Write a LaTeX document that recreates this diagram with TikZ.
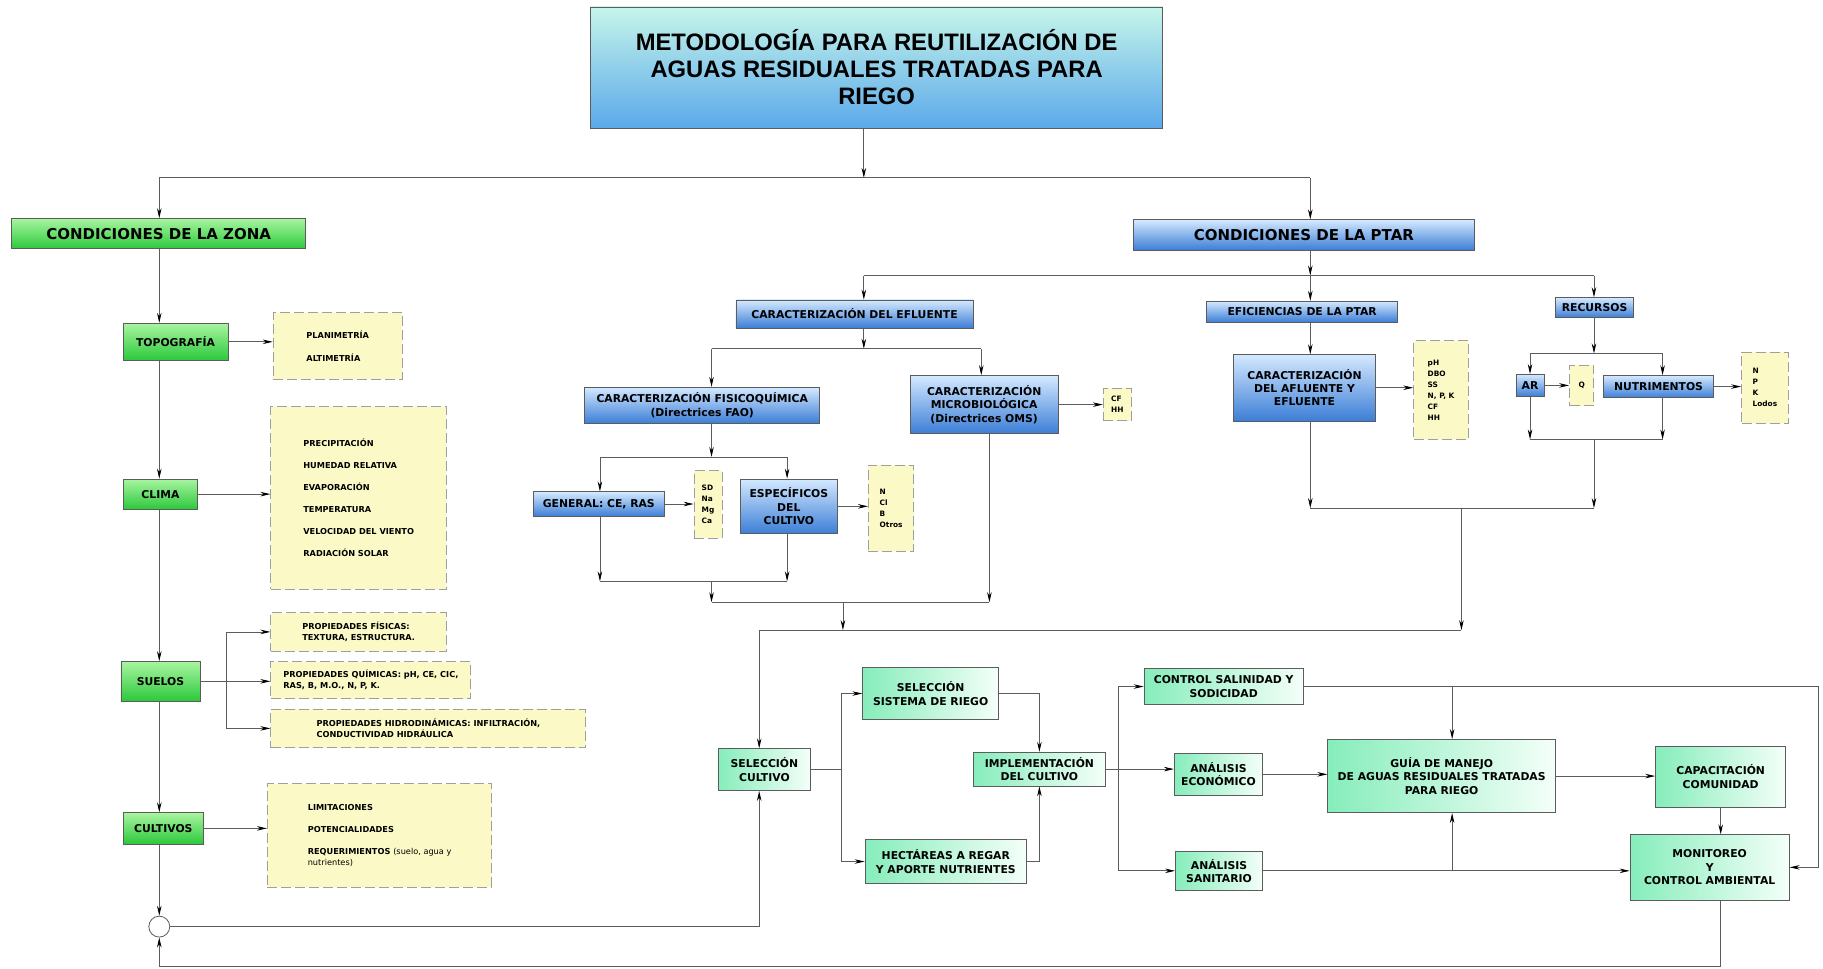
\documentclass[tikz,border=0pt]{standalone}
\usepackage{fontspec}
\setmainfont{DejaVu Sans}
\newfontfamily\titlefont{Liberation Sans}
\usetikzlibrary{arrows.meta}
\definecolor{lin}{HTML}{5C5C5C}
\definecolor{grnL}{HTML}{A8F5A0}
\definecolor{grnD}{HTML}{2CC83C}
\definecolor{bluL}{HTML}{D4E9FF}
\definecolor{bluD}{HTML}{3C7ED6}
\definecolor{mntL}{HTML}{86EDBB}
\definecolor{mntR}{HTML}{F4FFF9}
\definecolor{ylw}{HTML}{FBF9C6}
\definecolor{ttlT}{HTML}{C6F5EA}
\definecolor{ttlB}{HTML}{5AA9EA}

\begin{document}
\begin{tikzpicture}[x={(1.1626pt,0)}, y={(0,-1.1626pt)},
conn/.style={draw=lin, line width=0.8pt},
arr/.style={conn, -{Stealth[length=10pt,width=4.5pt,black]}},
box/.style 2 args={minimum width=#1*1.1626pt, minimum height=#2*1.1626pt, inner sep=0pt, align=center, draw=lin, line width=0.7pt},
grn/.style={top color=grnL, bottom color=grnD, font=\bfseries\fontsize{10.8}{13.3}\selectfont},
blu/.style={top color=bluL, bottom color=bluD, font=\bfseries\fontsize{10.8}{13.3}\selectfont},
mnt/.style={left color=mntL, right color=mntR, font=\bfseries\fontsize{10.8}{13.3}\selectfont},
note/.style={fill=ylw, draw=gray!75, dash pattern=on 10pt off 4pt, line width=1pt, font=\bfseries\fontsize{8.2}{11}\selectfont, align=left},
minor/.style={note, font=\bfseries\fontsize{7.4}{11}\selectfont}]
\useasboundingbox (0,0) rectangle (1568,833);

\node[box={492}{104}, top color=ttlT, bottom color=ttlB, font=\titlefont\bfseries\fontsize{23.8}{27}\selectfont] (title) at (754,58) {METODOLOGÍA PARA REUTILIZACIÓN DE\\AGUAS RESIDUALES TRATADAS PARA\\RIEGO};
\node[box={253}{26}, grn, font=\bfseries\fontsize{15}{18}\selectfont] (zona) at (136.5,201) {CONDICIONES DE LA ZONA};
\node[box={293}{26}, blu, font=\bfseries\fontsize{15}{18}\selectfont] (ptar) at (1121.5,202) {CONDICIONES DE LA PTAR};

\node[box={90}{32}, grn] (topo) at (151,294) {TOPOGRAFÍA};
\node[box={64}{26}, grn] (clima) at (138,425) {CLIMA};
\node[box={68}{34}, grn] (suelos) at (138,586) {SUELOS};
\node[box={69}{27}, grn] (cult) at (140.5,712.5) {CULTIVOS};
\node[circle, draw=lin, line width=0.8pt, fill=white, minimum size=18*1.1626pt, inner sep=0pt] (loop) at (137,797) {};

\node[box={111}{57}, note] (topod) at (290.5,297.5) {PLANIMETRÍA\\[12pt]ALTIMETRÍA};
\node[box={151}{157}, note] (climad) at (308.5,428.5) {PRECIPITACIÓN\\[11pt]HUMEDAD RELATIVA\\[11pt]EVAPORACIÓN\\[11pt]TEMPERATURA\\[11pt]VELOCIDAD DEL VIENTO\\[11pt]RADIACIÓN SOLAR};
\node[box={151}{33}, note] (fis) at (308.5,543.5) {PROPIEDADES FÍSICAS:\\TEXTURA, ESTRUCTURA.};
\node[box={172}{32}, note] (qui) at (319,585) {PROPIEDADES QUÍMICAS: pH, CE, CIC,\\RAS, B, M.O., N, P, K.};
\node[box={271}{33}, note] (hid) at (368.5,626.5) {PROPIEDADES HIDRODINÁMICAS: INFILTRACIÓN,\\CONDUCTIVIDAD HIDRÁULICA};
\node[box={193}{89}, note] (cultd) at (326.5,718.5) {LIMITACIONES\\[11pt]POTENCIALIDADES\\[11pt]REQUERIMIENTOS {\mdseries(suelo, agua y}\\{\mdseries nutrientes)}};

\node[box={204}{24}, blu] (efl) at (735,270) {CARACTERIZACIÓN DEL EFLUENTE};
\node[box={164}{18}, blu] (efi) at (1120,268) {EFICIENCIAS DE LA PTAR};
\node[box={67}{17}, blu] (rec) at (1371.5,264.5) {RECURSOS};
\node[box={202}{31}, blu] (fisq) at (604,348.5) {CARACTERIZACIÓN FISICOQUÍMICA\\(Directrices FAO)};
\node[box={127}{50}, blu] (micro) at (846.5,348) {CARACTERIZACIÓN\\MICROBIOLÓGICA\\(Directrices OMS)};
\node[box={24}{28}, minor] (cfhh) at (961,348) {CF\\HH};
\node[box={112}{21}, blu] (gen) at (515,433.5) {GENERAL: CE, RAS};
\node[box={24}{58}, minor] (sd) at (609,434) {SD\\Na\\Mg\\Ca};
\node[box={83}{47}, blu] (esp) at (678.5,435.5) {ESPECÍFICOS\\DEL\\CULTIVO};
\node[box={39}{74}, minor] (ncl) at (766.5,437) {N\\Cl\\B\\Otros};
\node[box={122}{57}, blu] (afl) at (1122,333.5) {CARACTERIZACIÓN\\DEL AFLUENTE Y\\EFLUENTE};
\node[box={47}{85}, minor] (afld) at (1239.5,335.5) {pH\\DBO\\SS\\N, P, K\\CF\\HH};
\node[box={24}{19}, blu] (ar) at (1316,331.5) {AR};
\node[box={21}{35}, minor] (q) at (1360.5,331.5) {Q};
\node[box={95}{19}, blu] (nut) at (1426.5,332.5) {NUTRIMENTOS};
\node[box={40}{61}, minor] (npk) at (1518,333.5) {N\\P\\K\\Lodos};

\node[box={79}{36}, mnt] (selc) at (657.5,662) {SELECCIÓN\\CULTIVO};
\node[box={117}{45}, mnt] (sis) at (800.5,596.5) {SELECCIÓN\\SISTEMA DE RIEGO};
\node[box={139}{38}, mnt] (hec) at (813.5,741) {HECTÁREAS A REGAR\\Y APORTE NUTRIENTES};
\node[box={114}{29}, mnt] (impl) at (894,661.5) {IMPLEMENTACIÓN\\DEL CULTIVO};
\node[box={137}{31}, mnt] (csal) at (1052.5,590.5) {CONTROL SALINIDAD Y\\SODICIDAD};
\node[box={76}{36}, mnt] (eco) at (1048,666) {ANÁLISIS\\ECONÓMICO};
\node[box={75}{34}, mnt] (san) at (1048.5,749) {ANÁLISIS\\SANITARIO};
\node[box={196}{63}, mnt] (guia) at (1240,667.5) {GUÍA DE MANEJO\\DE AGUAS RESIDUALES TRATADAS\\PARA RIEGO};
\node[box={112}{52}, mnt] (cap) at (1480,668) {CAPACITACIÓN\\COMUNIDAD};
\node[box={137}{56}, mnt] (mon) at (1470.5,746) {MONITOREO\\Y\\CONTROL AMBIENTAL};

\coordinate (ht) at (743,153);
\coordinate (hz) at (137,153);
\coordinate (hp) at (1127,153);
\draw[arr] (title.south -| ht) -- (ht);
\draw[conn] (hz) -- (hp);
\draw[arr] (hz) -- (hz |- zona.north);
\draw[arr] (hp) -- (hp |- ptar.north);
\draw[arr] (zona.south -| hz) -- (topo.north -| hz);
\draw[arr] (topo.south -| hz) -- (clima.north -| hz);
\draw[arr] (clima.south -| hz) -- (suelos.north -| hz);
\draw[arr] (suelos.south -| hz) -- (cult.north -| hz);
\draw[arr] (cult.south -| hz) -- (loop.north);
\draw[arr] (topo.east) -- (topo.east -| topod.west);
\draw[arr] (clima.east) -- (clima.east -| climad.west);
\coordinate (sb) at (195,586);
\draw[arr] (suelos.east) -- (suelos.east -| qui.west);
\draw[arr] (sb) |- (fis.west);
\draw[arr] (sb) |- (hid.west);
\draw[arr] (cult.east) -- (cult.east -| cultd.west);

\coordinate (pj) at (1127,237);
\coordinate (ej) at (743,237);
\coordinate (rj) at (1371,237);
\draw[arr] (ptar.south -| pj) -- (pj);
\draw[conn] (ej) -- (rj);
\draw[arr] (ej) -- (ej |- efl.north);
\draw[arr] (pj) -- (pj |- efi.north);
\draw[arr] (rj) -- (rj |- rec.north);

\coordinate (e2) at (743,300);
\coordinate (fj) at (612,300);
\coordinate (mj) at (844,300);
\draw[arr] (efl.south -| e2) -- (e2);
\draw[conn] (fj) -- (mj);
\draw[arr] (fj) -- (fj |- fisq.north);
\draw[arr] (mj) -- (mj |- micro.north);
\draw[arr] (micro.east) -- (micro.east -| cfhh.west);
\coordinate (f2) at (612,393);
\coordinate (gj) at (516,393);
\coordinate (sj) at (677,393);
\draw[arr] (fisq.south -| f2) -- (f2);
\draw[conn] (gj) -- (sj);
\draw[arr] (gj) -- (gj |- gen.north);
\draw[arr] (sj) -- (sj |- esp.north);
\draw[arr] (gen.east) -- (gen.east -| sd.west);
\draw[arr] (esp.east) -- (esp.east -| ncl.west);
\coordinate (gb) at (516,500);
\coordinate (sb2) at (677,500);
\draw[arr] (gen.south -| gb) -- (gb);
\draw[arr] (esp.south -| sb2) -- (sb2);
\draw[conn] (gb) -- (sb2);
\coordinate (f3) at (612,518);
\coordinate (m3) at (851,518);
\draw[arr] (f3 |- gb) -- (f3);
\draw[arr] (micro.south -| m3) -- (m3);
\draw[conn] (f3) -- (m3);
\coordinate (c3) at (725,542);
\coordinate (sx) at (653,542);
\coordinate (rx) at (1257,542);
\draw[arr] (c3 |- f3) -- (c3);
\draw[conn] (sx) -- (rx);
\draw[arr] (sx) -- (sx |- selc.north);

\draw[arr] (efi.south -| pj) -- (afl.north -| pj);
\draw[arr] (afl.east) -- (afl.east -| afld.west);
\coordinate (r1) at (1371,304);
\coordinate (arj) at (1316,304);
\coordinate (nuj) at (1430,304);
\draw[arr] (rec.south -| r1) -- (r1);
\draw[conn] (arj) -- (nuj);
\draw[arr] (arj) -- (arj |- ar.north);
\draw[arr] (nuj) -- (nuj |- nut.north);
\draw[arr] (ar.east) -- (ar.east -| q.west);
\draw[arr] (nut.east) -- (nut.east -| npk.west);
\coordinate (arb) at (1316,378);
\coordinate (nub) at (1430,378);
\draw[arr] (ar.south -| arb) -- (arb);
\draw[arr] (nut.south -| nub) -- (nub);
\draw[conn] (arb) -- (nub);
\coordinate (a4) at (1127,437);
\coordinate (r4) at (1371,437);
\draw[arr] (afl.south -| a4) -- (a4);
\draw[arr] (r4 |- arb) -- (r4);
\draw[conn] (a4) -- (r4);
\draw[arr] (rx |- a4) -- (rx);

\coordinate (b1) at (724,662);
\draw[conn] (selc.east) -- (b1);
\draw[arr] (b1) |- (sis.west);
\draw[arr] (b1) |- (hec.west);
\draw[arr] (sis.east) -| (impl.north);
\draw[arr] (hec.east) -| (impl.south);
\coordinate (b2) at (962,661.5);
\draw[arr] (impl.east) -- (impl.east -| eco.west);
\draw[arr] (b2) |- (csal.west);
\draw[arr] (b2) |- (san.west);
\coordinate (gx) at (1249,590.5);
\coordinate (rr) at (1564,590.5);
\draw[arr] (csal.east) -- (rr) |- (mon.east);
\draw[arr] (gx) -- (gx |- guia.north);
\draw[arr] (eco.east) -- (eco.east -| guia.west);
\draw[arr] (san.east) -- (san.east -| mon.west);
\draw[arr] (san.east -| gx) -- (gx |- guia.south);
\draw[arr] (guia.east) -- (guia.east -| cap.west);
\draw[arr] (cap.south) -- (cap.south |- mon.north);
\coordinate (fb) at (137,831);
\draw[arr] (mon.south -| cap.south) |- (fb) -- (loop.south);
\draw[arr] (loop.east) -| (sx |- selc.south);
\end{tikzpicture}
\end{document}
